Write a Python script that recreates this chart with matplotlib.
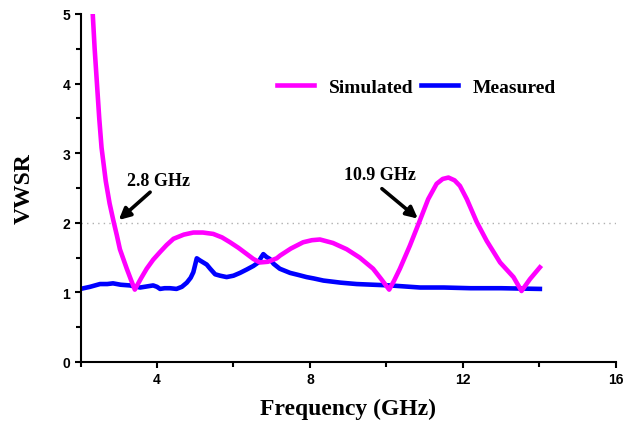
import matplotlib
matplotlib.use("Agg")
import matplotlib.pyplot as plt
from matplotlib.ticker import MultipleLocator

# Simulated VSWR (GHz, VSWR)
sim_freq = [2.32, 2.37, 2.43, 2.49, 2.55, 2.66, 2.76, 2.86, 2.95, 3.03, 3.12, 3.21, 3.32, 3.42,
            3.58, 3.73, 3.90, 4.08, 4.25, 4.43, 4.70, 4.95, 5.20, 5.47, 5.70, 5.91, 6.13,
            6.35, 6.52, 6.69, 6.90, 7.13, 7.22, 7.50, 7.82, 8.05, 8.26, 8.60, 8.96, 9.30,
            9.65, 9.85, 10.07, 10.20, 10.35, 10.61, 10.87, 11.09, 11.31, 11.47, 11.62, 11.78,
            11.92, 12.10, 12.36, 12.62, 12.97, 13.32, 13.53, 13.75, 14.01]
sim_vswr = [5.00, 4.50, 4.00, 3.50, 3.08, 2.60, 2.28, 2.03, 1.82, 1.62, 1.48, 1.34, 1.18, 1.04,
            1.20, 1.34, 1.47, 1.58, 1.68, 1.77, 1.83, 1.86, 1.86, 1.84, 1.79, 1.72, 1.64,
            1.55, 1.48, 1.43, 1.44, 1.49, 1.53, 1.63, 1.72, 1.75, 1.76, 1.71, 1.62, 1.50,
            1.34, 1.20, 1.04, 1.17, 1.34, 1.67, 2.03, 2.34, 2.56, 2.63, 2.65, 2.61,
            2.53, 2.34, 2.01, 1.74, 1.43, 1.22, 1.02, 1.19, 1.36]

# Measured VSWR (GHz, VSWR)
meas_freq = [2.00, 2.25, 2.51, 2.70, 2.85, 3.05, 3.29, 3.56, 3.90, 4.00, 4.08, 4.20,
             4.34, 4.51, 4.65, 4.78, 4.88, 4.95, 5.04, 5.12, 5.21, 5.30, 5.39, 5.52,
             5.65, 5.82, 6.00, 6.17, 6.35, 6.52, 6.65, 6.72, 6.78, 6.86, 6.95, 7.05,
             7.21, 7.48, 7.70, 7.91, 8.10, 8.35, 8.80, 9.22, 9.65, 10.09,
             10.88, 11.50, 12.20, 13.00, 14.01]
meas_vswr = [1.05, 1.08, 1.12, 1.12, 1.13, 1.11, 1.10, 1.07, 1.10, 1.08, 1.05, 1.06,
             1.06, 1.05, 1.08, 1.14, 1.21, 1.29, 1.49, 1.46, 1.43, 1.40, 1.34, 1.26,
             1.24, 1.22, 1.24, 1.28, 1.33, 1.38, 1.43, 1.50, 1.55, 1.51, 1.48, 1.41,
             1.34, 1.28, 1.25, 1.22, 1.20, 1.17, 1.14, 1.12, 1.11, 1.10,
             1.07, 1.07, 1.06, 1.06, 1.05]

x_ticks = [4, 8, 12, 16]
y_ticks = [0, 1, 2, 3, 4, 5]

serif = "Liberation Serif"
sans = "Liberation Sans"

fig = plt.figure(figsize=(6.26, 4.27), dpi=100)
ax = fig.add_axes([0.1286, 0.1499, 0.8554, 0.8150])

ax.axhline(2, color="#b0b0b0", lw=1.0, ls=(0, (1, 3)), zorder=1)
ax.plot(sim_freq, sim_vswr, color="#ff00ff", lw=3.3, label="Simulated", zorder=3,
        solid_joinstyle="round")
ax.plot(meas_freq, meas_vswr, color="#0000ff", lw=3.3, label="Measured", zorder=2,
        solid_joinstyle="round")

ax.set_xlim(2, 16)
ax.set_ylim(0, 5)
ax.xaxis.set_minor_locator(MultipleLocator(2))
ax.yaxis.set_minor_locator(MultipleLocator(0.5))
ax.set_xticks(x_ticks)
ax.set_yticks(y_ticks)

for s in ("top", "right"):
    ax.spines[s].set_visible(False)
for s in ("left", "bottom"):
    ax.spines[s].set_linewidth(1.5)

ax.tick_params(which="both", direction="out", width=1.5, length=4)
ax.tick_params(which="minor", length=3.5)
for lbl in ax.get_xticklabels() + ax.get_yticklabels():
    lbl.set_fontfamily(sans)
    lbl.set_fontweight("bold")
    lbl.set_fontsize(10)

ax.set_xlabel("Frequency (GHz)", fontfamily=serif, fontweight="bold", fontsize=17, labelpad=8)
ax.set_ylabel("VWSR", fontfamily=serif, fontweight="bold", fontsize=17, labelpad=20)

arrow = dict(arrowstyle="-|>", color="black", lw=2.6, mutation_scale=17, shrinkA=0, shrinkB=0)
ax.annotate("", xy=(3.0, 2.04), xytext=(3.82, 2.44), arrowprops=arrow)
ax.annotate("", xy=(10.82, 2.06), xytext=(9.88, 2.49), arrowprops=arrow)
ax.text(4.03, 2.61, "2.8 GHz", ha="center", va="center", fontfamily=serif,
        fontweight="bold", fontsize=13)
ax.text(9.83, 2.70, "10.9 GHz", ha="center", va="center", fontfamily=serif,
        fontweight="bold", fontsize=13)

ax.legend(loc="center left", bbox_to_anchor=(0.349, 0.79), ncol=2, frameon=False,
          prop=dict(family=serif, weight="bold", size=14), handlelength=1.9,
          handletextpad=0.77, columnspacing=0.36, borderpad=0)

fig.savefig("out.png", dpi=100)
